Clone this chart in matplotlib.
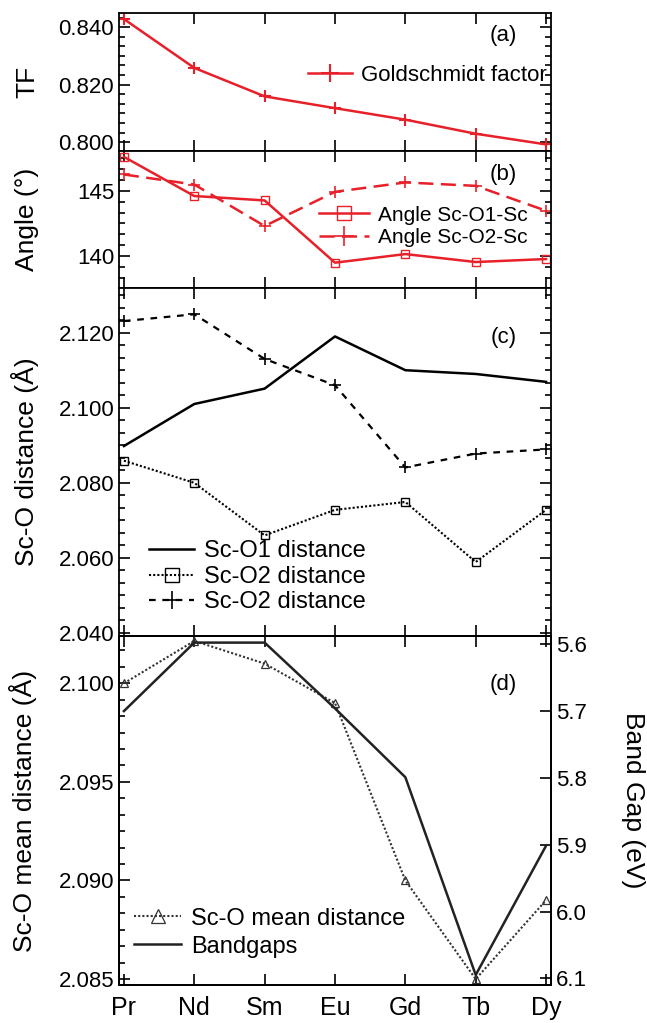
import matplotlib
matplotlib.use('Agg')
from matplotlib import pyplot as plt
from matplotlib.ticker import AutoMinorLocator, FormatStrFormatter

plt.rcParams['font.family'] = ['Liberation Sans', 'DejaVu Sans']

# data
elements = ['Pr', 'Nd', 'Sm', 'Eu', 'Gd', 'Tb', 'Dy']
tf = [0.8428, 0.8258, 0.8159, 0.8118, 0.8078, 0.8029, 0.7992]
angle_o1 = [147.6, 144.6, 144.26, 139.49, 140.15, 139.54, 139.77]
angle_o2 = [146.25, 145.48, 142.3, 144.92, 145.64, 145.38, 143.47]
dist_o1 = [2.0898, 2.1010, 2.1051, 2.1190, 2.1100, 2.1090, 2.1069]
dist_o2a = [2.0859, 2.0800, 2.0660, 2.0728, 2.0749, 2.0589, 2.0728]
dist_o2b = [2.1231, 2.1249, 2.1130, 2.1060, 2.0841, 2.0878, 2.0889]
mean_dist = [2.1000, 2.10215, 2.1010, 2.0990, 2.0900, 2.0850, 2.0890]
bandgap = [5.700, 5.5975, 5.5975, 5.696, 5.799, 6.095, 5.9015]

x = list(range(len(elements)))
red = '#e8202a'

W, H = 647, 1023
fig = plt.figure(figsize=(W / 100, H / 100), dpi=100)
left, right = 119 / W, 551 / W


def make_ax(top_px, bot_px):
    return fig.add_axes([left, 1 - bot_px / H, right - left, (bot_px - top_px) / H])


ax1 = make_ax(13, 151)
ax2 = make_ax(151, 288)
ax3 = make_ax(288, 636)
ax4 = make_ax(636, 985)

for ax in (ax1, ax2, ax3, ax4):
    ax.set_xlim(-0.07, 6.07)
    ax.set_xticks(x)
    ax.set_xticklabels([])
    ax.yaxis.set_minor_locator(AutoMinorLocator(6))
    ax.tick_params(which='both', direction='in', top=True, bottom=True,
                   left=True, right=True, labelsize=16, width=1.2)
    ax.tick_params(which='major', length=8)
    ax.tick_params(which='minor', length=4)
    for s in ax.spines.values():
        s.set_linewidth(1.3)

# (a) Goldschmidt factor
ax1.plot(x, tf, color=red, lw=1.8, marker='+', ms=9, mew=1.5, label='Goldschmidt factor')
ax1.set_ylim(0.7969, 0.8449)
ax1.set_yticks([0.800, 0.820, 0.840])
ax1.yaxis.set_major_formatter(FormatStrFormatter('%.3f'))
ax1.set_ylabel('TF', fontsize=19)
ax1.yaxis.set_label_coords(-0.185, 0.5)
ax1.legend(loc='center right', bbox_to_anchor=(0.99, 0.55), frameon=False,
           fontsize=16, handlelength=2.0, handletextpad=0.4, markerscale=1.4,
           borderpad=0, borderaxespad=0)
ax1.text(0.89, 0.84, '(a)', transform=ax1.transAxes, fontsize=16, ha='center', va='center')

# (b) angles
ax2.plot(x, angle_o1, color=red, lw=1.8, marker='s', ms=6, mfc='none', mew=1.0,
         label='Angle Sc-O1-Sc')
ax2.plot(x, angle_o2, color=red, lw=1.8, dashes=(6, 3), marker='+', ms=9, mew=1.2,
         label='Angle Sc-O2-Sc')
ax2.set_ylim(137.55, 148.05)
ax2.set_yticks([140, 145])
ax2.set_ylabel('Angle (°)', fontsize=19)
ax2.yaxis.set_label_coords(-0.185, 0.5)
ax2.legend(loc='center right', bbox_to_anchor=(0.945, 0.45), frameon=False,
           fontsize=15, handlelength=2.4, handletextpad=0.4, labelspacing=0.15,
           markerscale=1.6, borderpad=0, borderaxespad=0)
ax2.text(0.89, 0.825, '(b)', transform=ax2.transAxes, fontsize=16, ha='center', va='center')

# (c) Sc-O distances
ax3.plot(x, dist_o1, color='black', lw=1.8, label='Sc-O1 distance')
ax3.plot(x, dist_o2a, color='black', lw=1.5, linestyle=(0, (1, 1)), marker='s', ms=6,
         mfc='none', mew=1.0, label='Sc-O2 distance')
ax3.plot(x, dist_o2b, color='black', lw=1.6, dashes=(3, 3), marker='+', ms=8, mew=1.2,
         label='Sc-O2 distance')
ax3.set_ylim(2.0392, 2.1319)
ax3.set_yticks([2.040, 2.060, 2.080, 2.100, 2.120])
ax3.yaxis.set_major_formatter(FormatStrFormatter('%.3f'))
ax3.set_ylabel('Sc-O distance (Å)', fontsize=19)
ax3.yaxis.set_label_coords(-0.185, 0.5)
ax3.legend(loc='center left', bbox_to_anchor=(0.07, 0.17), frameon=False,
           fontsize=17, handlelength=1.9, handletextpad=0.4, labelspacing=0.15,
           markerscale=1.6, borderpad=0, borderaxespad=0)
ax3.text(0.89, 0.857, '(c)', transform=ax3.transAxes, fontsize=16, ha='center', va='center')

# (d) mean distance and band gap
ax4.plot(x, mean_dist, color='#333333', lw=1.5, linestyle=(0, (1, 1)), marker='^', ms=6,
         mfc='none', mew=0.9, label='Sc-O mean distance')
ax4.set_ylim(2.0847, 2.1024)
ax4.set_yticks([2.085, 2.090, 2.095, 2.100])
ax4.yaxis.set_major_formatter(FormatStrFormatter('%.3f'))
ax4.set_ylabel('Sc-O mean distance (Å)', fontsize=19)
ax4.yaxis.set_label_coords(-0.19, 0.5)
ax4.tick_params(right=False, which='both')
ax4.tick_params(axis='x', pad=8)
ax4.set_xticklabels(elements, fontsize=18)

ax4b = ax4.twinx()
ax4b.plot(x, bandgap, color='#222222', lw=1.8, label='Bandgaps')
ax4b.set_ylim(6.110, 5.5876)
ax4b.set_yticks([5.6, 5.7, 5.8, 5.9, 6.0, 6.1])
ax4b.yaxis.set_major_formatter(FormatStrFormatter('%.1f'))
ax4b.tick_params(direction='in', labelsize=16, length=8, width=1.2)
for s in ax4b.spines.values():
    s.set_linewidth(1.3)
fig.text(633 / W, 1 - 800 / H, 'Band Gap (eV)', rotation=270, fontsize=19,
         ha='center', va='center')

h1, l1 = ax4.get_legend_handles_labels()
h2, l2 = ax4b.get_legend_handles_labels()
ax4b.legend(h1 + h2, l1 + l2, loc='center left', bbox_to_anchor=(0.035, 0.15),
            frameon=False, fontsize=17, handlelength=2.0, handletextpad=0.4,
            labelspacing=0.25, markerscale=1.6, borderpad=0, borderaxespad=0)
ax4.text(0.89, 0.86, '(d)', transform=ax4.transAxes, fontsize=16, ha='center', va='center')

fig.savefig('out.png', dpi=100)
